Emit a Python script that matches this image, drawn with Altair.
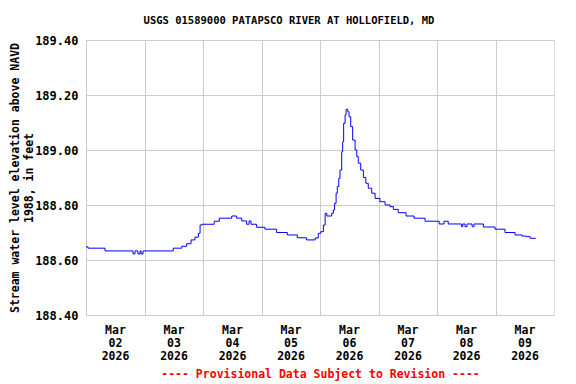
import altair as alt
import pandas as pd

# Hours since 2026-03-02 00:00 and gage level (ft above NAVD 1988)
hours = [0.0, 0.8, 7.8, 19.3, 20.1, 21.3, 22.2, 22.6, 23.4, 35.8, 39.3, 41.3, 43.1,
         44.7, 46.1, 46.8, 47.5, 52.6, 54.7, 59.8, 61.8, 63.9, 65.9, 66.9, 67.7,
         70.0, 73.4, 78.2, 82.6, 86.7, 90.5, 94.0, 95.3, 96.3, 97.4, 98.1, 98.8,
         100.8, 101.5, 102.0, 102.6, 103.1, 103.7, 104.2, 104.9, 105.3, 105.7,
         106.3, 106.7, 107.4, 107.9, 108.6, 109.4, 110.4, 111.1, 111.7, 112.7,
         113.8, 114.8, 115.8, 117.2, 118.6, 120.6, 122.7, 124.7, 126.1, 128.1,
         131.3, 134.6, 139.1, 144.9, 146.9, 148.6, 154.1, 154.6, 155.5, 156.3,
         158.4, 159.2, 163.0, 167.8, 171.9, 176.0, 178.9, 180.8, 182.2, 184.5]
level = [188.648, 188.643, 188.633, 188.622, 188.633, 188.622, 188.633, 188.622, 188.633,
         188.643, 188.650, 188.659, 188.673, 188.683, 188.697, 188.727, 188.730,
         188.741, 188.752, 188.760, 188.752, 188.742, 188.730, 188.742, 188.730,
         188.719, 188.712, 188.700, 188.691, 188.681, 188.673, 188.680, 188.697,
         188.703, 188.727, 188.770, 188.760, 188.770, 188.782, 188.806, 188.843,
         188.867, 188.897, 188.927, 188.994, 189.030, 189.097, 189.127, 189.148,
         189.139, 189.121, 189.085, 189.036, 189.000, 188.976, 188.952, 188.927,
         188.900, 188.879, 188.861, 188.843, 188.824, 188.812, 188.800, 188.794,
         188.784, 188.772, 188.760, 188.752, 188.741, 188.731, 188.741, 188.731,
         188.721, 188.731, 188.721, 188.731, 188.721, 188.731, 188.720, 188.712,
         188.700, 188.691, 188.687, 188.685, 188.679, 188.679]

y_ticks = [188.40, 188.60, 188.80, 189.00, 189.20, 189.40]
day_dates = [2, 3, 4, 5, 6, 7, 8, 9]

start = pd.Timestamp("2026-03-02 00:00")
times = [(start + pd.Timedelta(hours=h)).strftime("%Y-%m-%dT%H:%M:%S") for h in hours]
df = pd.DataFrame({"time": times, "level": level})

FONT = "DejaVu Sans Mono"

x = alt.X(
    "time:T",
    scale=alt.Scale(domain=[alt.DateTime(year=2026, month=3, date=2),
                            alt.DateTime(year=2026, month=3, date=10)]),
    axis=alt.Axis(
        values=[alt.DateTime(year=2026, month=3, date=d) for d in day_dates],
        labelExpr="[timeFormat(datum.value, '%b'), timeFormat(datum.value, '%d'), timeFormat(datum.value, '%Y')]",
        labelOffset=29, ticks=False, domain=False, grid=True, gridColor="#cccccc",
        labelOverlap=False, labelBound=False, labelFlush=False,
        labelFont=FONT, labelFontWeight="bold", labelFontSize=11.5, labelColor="black",
        labelLineHeight=13, labelPadding=9,
        title="---- Provisional Data Subject to Revision ----",
        titleColor="#ff0000", titleFont=FONT, titleFontSize=11.5, titleFontWeight="bold",
        titlePadding=7,
    ),
)
y = alt.Y(
    "level:Q",
    scale=alt.Scale(domain=[188.4, 189.4], nice=False, zero=False),
    axis=alt.Axis(
        values=y_ticks, format=".2f", ticks=False, domain=False, grid=True,
        gridColor="#cccccc",
        labelFont=FONT, labelFontWeight="bold", labelFontSize=12, labelColor="black",
        labelPadding=8,
        title=["Stream water level elevation above NAVD", "1988, in feet"],
        titleFont=FONT, titleFontWeight="bold", titleFontSize=11.5, titleColor="black",
        titleLineHeight=14, titlePadding=0,
    ),
)

chart = (
    alt.Chart(df)
    .mark_line(color="#0000ff", strokeWidth=1, interpolate="step-after")
    .encode(x=x, y=y)
    .properties(
        width=468, height=275,
        title=alt.TitleParams(
            "USGS 01589000 PATAPSCO RIVER AT HOLLOFIELD, MD",
            font=FONT, fontSize=10.5, fontWeight="bold", color="black",
            anchor="middle", dx=-31, offset=8,
        ),
        autosize=alt.AutoSizeParams(type="none"),
        padding={"left": 78, "top": 32, "right": 14, "bottom": 68},
    )
    .configure_view(stroke="black", strokeWidth=1)
    .configure(background="white")
)

chart.save("out.html", embed_options={"renderer": "svg", "actions": False})
